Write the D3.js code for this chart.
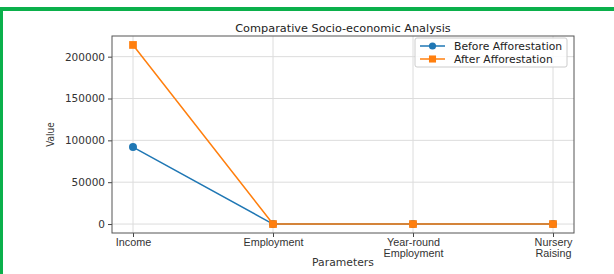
<!DOCTYPE html>
<html>
<head>
<meta charset="utf-8">
<script src="https://cdn.jsdelivr.net/npm/d3@7"></script>
<style>
  body { margin: 0; background: #fff; }
  svg { display: block; font-family: "DejaVu Sans", sans-serif; }
</style>
</head>
<body>
<svg id="chart" width="614" height="274"></svg>
<script>
// chart data
const categories = ["Income", "Employment", "Year-round\nEmployment", "Nursery\nRaising"];
const beforeValues = [92000, 0, 0, 0];
const afterValues = [214000, 0, 0, 0];
const yTicks = [0, 50000, 100000, 150000, 200000];

const width = 614;
const height = 274;
const plot = { left: 112, right: 574, top: 36, bottom: 233 };
const labelSize = "10.8px";

const svg = d3.select("#chart");

// green frame round the screenshot
svg.append("rect").attr("x", 0).attr("y", 7).attr("width", width).attr("height", 4).attr("fill", "#0bb04b");
svg.append("rect").attr("x", 0).attr("y", 7).attr("width", 3).attr("height", height - 7).attr("fill", "#0bb04b");

const x = d3.scaleLinear()
  .domain([-0.15, categories.length - 1 + 0.15])
  .range([plot.left, plot.right]);

const yMax = d3.max(afterValues.concat(beforeValues));
const pad = yMax * 0.05;
const y = d3.scaleLinear()
  .domain([-pad, yMax + pad])
  .range([plot.bottom, plot.top]);

// grid
const grid = svg.append("g").attr("stroke", "#dcdcdc").attr("stroke-width", 1);
categories.forEach((c, i) => {
  grid.append("line")
    .attr("x1", x(i)).attr("x2", x(i))
    .attr("y1", plot.top).attr("y2", plot.bottom);
});
yTicks.forEach(t => {
  grid.append("line")
    .attr("x1", plot.left).attr("x2", plot.right)
    .attr("y1", y(t)).attr("y2", y(t));
});

// axes
const yAxis = svg.append("g")
  .attr("transform", `translate(${plot.left},0)`)
  .call(d3.axisLeft(y).tickValues(yTicks).tickSize(4).tickPadding(3).tickFormat(d3.format("d")));
const xAxis = svg.append("g")
  .attr("transform", `translate(0,${plot.bottom})`)
  .call(d3.axisBottom(x).tickValues(d3.range(categories.length)).tickSize(4).tickPadding(3).tickFormat(""));
[yAxis, xAxis].forEach(g => {
  g.select(".domain").remove();
  g.selectAll(".tick line").attr("stroke", "#444");
  g.selectAll("text").attr("fill", "#333").style("font-size", "10.5px").style("font-family", "DejaVu Sans");
});

// multi-line category labels
xAxis.selectAll(".tick").each(function(d) {
  const lines = categories[d].split("\n");
  const t = d3.select(this).append("text")
    .attr("fill", "#333")
    .attr("text-anchor", "middle")
    .style("font-size", labelSize);
  lines.forEach((l, k) => {
    t.append("tspan").attr("x", 0).attr("y", 13 + k * 11).text(l);
  });
});

// frame
svg.append("rect")
  .attr("x", plot.left).attr("y", plot.top)
  .attr("width", plot.right - plot.left).attr("height", plot.bottom - plot.top)
  .attr("fill", "none").attr("stroke", "#555").attr("stroke-width", 1);

const line = d3.line().x((d, i) => x(i)).y(d => y(d));

// series
const series = [
  { name: "Before Afforestation", values: beforeValues, color: "#1f77b4", marker: "circle" },
  { name: "After Afforestation", values: afterValues, color: "#ff7f0e", marker: "square" }
];

series.forEach(s => {
  svg.append("path")
    .datum(s.values)
    .attr("fill", "none")
    .attr("stroke", s.color)
    .attr("stroke-width", 1.5)
    .attr("d", line);
  const sym = d3.symbol().type(s.marker === "circle" ? d3.symbolCircle : d3.symbolSquare).size(s.marker === "circle" ? 50 : 60);
  svg.selectAll(null)
    .data(s.values)
    .enter()
    .append("path")
    .attr("transform", (d, i) => `translate(${x(i)},${y(d)})`)
    .attr("d", sym)
    .attr("fill", s.color);
});

// title and axis labels
svg.append("text")
  .attr("x", (plot.left + plot.right) / 2).attr("y", 32)
  .attr("text-anchor", "middle").attr("fill", "#222")
  .style("font-size", "11.3px")
  .text("Comparative Socio-economic Analysis");

svg.append("text")
  .attr("x", (plot.left + plot.right) / 2).attr("y", 266)
  .attr("text-anchor", "middle").attr("fill", "#333")
  .style("font-size", labelSize)
  .text("Parameters");

svg.append("text")
  .attr("transform", `translate(54,${(plot.top + plot.bottom) / 2}) rotate(-90)`)
  .attr("text-anchor", "middle").attr("fill", "#333")
  .style("font-size", "10px")
  .style("font-family", "Liberation Sans Narrow, DejaVu Sans Condensed, sans-serif")
  .text("Value");

// legend
const legend = svg.append("g").attr("transform", "translate(415,38)");
legend.append("rect")
  .attr("width", 152).attr("height", 29)
  .attr("fill", "#fff").attr("fill-opacity", 0.85)
  .attr("stroke", "#ccc").attr("rx", 2);
series.forEach((s, i) => {
  const g = legend.append("g").attr("transform", `translate(5,${8 + i * 13})`);
  g.append("line").attr("x1", 0).attr("x2", 25).attr("stroke", s.color).attr("stroke-width", 1.5);
  g.append("path")
    .attr("transform", "translate(12.5,0)")
    .attr("d", d3.symbol().type(s.marker === "circle" ? d3.symbolCircle : d3.symbolSquare).size(s.marker === "circle" ? 40 : 50))
    .attr("fill", s.color);
  g.append("text").attr("x", 34).attr("y", 4).attr("fill", "#222")
    .style("font-size", labelSize).text(s.name);
});
</script>
</body>
</html>
